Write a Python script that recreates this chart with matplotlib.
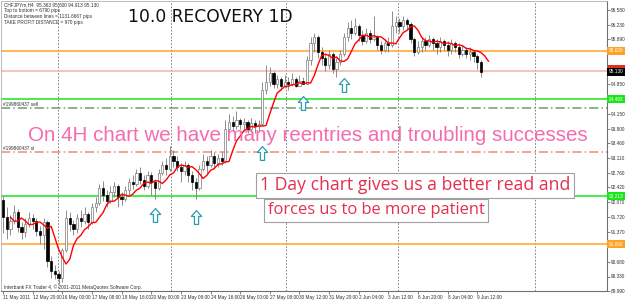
import matplotlib
matplotlib.use('Agg')
import matplotlib.pyplot as plt
from matplotlib.path import Path
from matplotlib.patches import Rectangle
import numpy as np
import pandas as pd

# CHFJPYm H4, 11 May - 9 Jun 2011
first_open = 92.12
closes = [91.72, 91.45, 91.62, 91.85, 91.50, 91.38, 91.55, 91.70, 91.62, 91.40,
          91.30, 91.60, 90.70, 90.45, 90.40, 90.30, 90.95, 91.70, 91.55, 91.45,
          91.70, 91.62, 91.80, 91.60, 91.95, 92.05, 92.40, 92.25, 92.10, 92.30,
          92.45, 92.20, 92.15, 92.35, 92.55, 92.50, 92.75, 92.60, 92.45, 92.70,
          92.55, 92.40, 92.75, 92.95, 92.85, 93.15, 93.05, 92.90, 92.80, 92.95,
          92.70, 92.55, 92.40, 92.85, 93.05, 92.95, 93.15, 93.00, 93.10, 93.05,
          93.80, 93.95, 93.85, 94.00, 93.90, 93.95, 93.80, 93.92, 93.85, 93.90,
          94.70, 94.90, 95.10, 94.85, 94.95, 94.80, 94.90, 94.85, 94.95, 94.80,
          94.92, 94.85, 95.40, 95.80, 95.95, 95.60, 95.45, 95.30, 95.55, 95.20,
          95.35, 95.55, 95.95, 96.15, 96.05, 96.20, 96.00, 95.85, 96.05, 95.90,
          95.95, 95.75, 95.65, 95.80, 95.75, 96.20, 96.30, 96.20, 96.35, 96.25,
          95.90, 95.60, 95.70, 95.85, 95.75, 95.90, 95.80, 95.70, 95.85, 95.75,
          95.65, 95.80, 95.70, 95.55, 95.65, 95.55, 95.60, 95.50, 95.35, 95.13]
highs = [92.22, 91.95, 91.78, 92.00, 91.92, 91.60, 91.70, 91.85, 91.80, 91.70,
         91.52, 91.70, 91.65, 90.80, 90.60, 90.45, 91.00, 91.88, 91.85, 91.65,
         91.80, 91.90, 91.95, 91.85, 92.05, 92.20, 92.50, 92.58, 92.35, 92.45,
         92.55, 92.50, 92.30, 92.45, 92.65, 92.70, 92.85, 92.90, 92.70, 92.80,
         92.78, 92.62, 92.85, 93.05, 93.10, 93.40, 93.30, 93.15, 93.00, 93.05,
         93.00, 92.80, 92.65, 92.95, 93.20, 93.15, 93.30, 93.25, 93.20, 93.25,
         94.00, 94.15, 94.10, 94.20, 94.05, 94.05, 94.00, 94.05, 94.00, 94.00,
         94.90, 95.30, 95.25, 95.15, 95.05, 95.00, 95.05, 95.00, 95.10, 95.00,
         95.05, 95.00, 95.50, 95.95, 96.05, 96.00, 95.70, 95.55, 95.65, 95.60,
         95.45, 95.65, 96.05, 96.30, 96.35, 96.40, 96.25, 96.10, 96.15, 96.10,
         96.45, 96.00, 95.85, 95.90, 95.95, 96.55, 96.45, 96.40, 96.45, 96.40,
         96.30, 95.95, 95.85, 95.95, 95.95, 96.00, 95.95, 95.90, 95.95, 95.90,
         95.85, 95.90, 95.85, 95.80, 95.75, 95.70, 95.72, 95.65, 95.55, 95.40]
lows = [91.35, 91.20, 91.30, 91.55, 91.38, 91.20, 91.25, 91.48, 91.45, 91.28,
        91.10, 90.98, 90.55, 90.30, 90.28, 90.15, 90.20, 90.90, 91.40, 91.30,
        91.35, 91.50, 91.55, 91.45, 91.55, 91.85, 92.00, 92.10, 91.95, 92.05,
        92.20, 91.95, 92.00, 92.10, 92.25, 92.38, 92.45, 92.50, 92.35, 92.40,
        92.25, 92.15, 92.35, 92.70, 92.70, 92.80, 92.90, 92.80, 92.55, 92.70,
        92.55, 92.35, 92.15, 92.35, 92.80, 92.75, 92.90, 92.85, 92.90, 92.95,
        93.00, 93.70, 93.75, 93.80, 93.78, 93.75, 93.70, 93.72, 93.70, 93.72,
        93.85, 94.60, 94.80, 94.75, 94.75, 94.70, 94.75, 94.70, 94.80, 94.78,
        94.82, 94.84, 94.85, 95.30, 95.60, 95.45, 95.30, 95.15, 95.20, 95.10,
        95.00, 95.30, 95.50, 95.85, 95.90, 96.00, 95.85, 95.75, 95.80, 95.80,
        95.85, 95.65, 95.55, 95.60, 95.60, 95.70, 96.05, 96.05, 96.10, 96.10,
        95.80, 95.50, 95.55, 95.60, 95.65, 95.70, 95.65, 95.55, 95.60, 95.65,
        95.50, 95.55, 95.60, 95.45, 95.50, 95.45, 95.40, 95.35, 95.20, 95.00]

date_labels = ["11 May 2011", "12 May 20:00", "16 May 00:00", "17 May 08:00", "18 May 16:00",
               "20 May 00:00", "23 May 08:00", "24 May 16:00", "26 May 00:00", "27 May 08:00",
               "30 May 12:00", "31 May 20:00", "2 Jun 04:00", "3 Jun 12:00", "6 Jun 20:00",
               "8 Jun 04:00", "9 Jun 12:00"]
price_ticks = [96.580, 96.230, 95.890, 95.540, 95.190, 94.850, 94.500, 94.150, 93.800, 93.460,
               93.110, 92.760, 92.420, 92.070, 91.720, 91.370, 91.020, 90.680, 90.330, 89.990]
# tick labels hidden under the coloured price boxes on the right
hidden_ticks = [95.540, 95.190, 94.500, 91.020]

# week separators (bar positions) and buy arrows
week_bars = [14.8, 45.3, 76.3, 106.5, 143.7]
arrow_bars = [41, 52, 70, 81, 92]
arrow_prices = [91.78, 91.72, 93.22, 94.40, 94.82]

# horizontal levels: price, colour, style, label box colour, label
levels = [
    (95.62, '#FFA224', '-', '#FFA224', '95.620'),
    (95.15, '#F2B3A5', '-', None, None),
    (94.49, '#19E619', '-', '#19E619', '94.493'),
    (94.29, '#6E9E6E', (0, (6, 2, 1, 2)), None, None),
    (93.26, '#F28C6A', (0, (6, 2, 1, 2)), None, None),
    (92.21, '#19E619', '-', '#19E619', '92.213'),
    (91.09, '#FFA224', '-', '#FFA224', '91.092'),
]

opens = [first_open] + closes[:-1]
n = len(closes)
bars = np.arange(n)
o = np.array(opens); c = np.array(closes)
h = np.array(highs); l = np.array(lows)

fig = plt.figure(figsize=(6.25, 3.01), dpi=100)
ax = fig.add_axes([0.0016, 10 / 301, 606 / 625, 290 / 301])
ax.set_xlim(-0.54, 163.0)
ax.set_ylim(89.99, 96.79)

small = dict(family='Liberation Sans', fontsize=3.4, color='#303030')

# grid (week separators)
for wb in week_bars:
    ax.axvline(wb, color='#707070', lw=0.6, ls=(0, (2, 2)), zorder=1)

# levels
for price, col, ls, boxcol, lab in levels:
    ax.axhline(price, color=col, lw=1.1, ls=ls, zorder=1.5)

# candles
up = c >= o
ax.vlines(bars, l, h, color='#7A7A7A', lw=0.6, zorder=2)
body_h = np.maximum(np.abs(c - o), 0.015)
ax.bar(bars[up], body_h[up], bottom=np.minimum(o, c)[up], width=0.6,
       color='white', edgecolor='#7A7A7A', linewidth=0.5, zorder=3)
ax.bar(bars[~up], body_h[~up], bottom=np.minimum(o, c)[~up], width=0.6,
       color='black', edgecolor='black', linewidth=0.5, zorder=3)

# moving average (EMA 5, shifted 2 bars)
ema = pd.Series(closes).ewm(span=5, adjust=False).mean()
ax.plot(bars + 2, ema, color='#FF0000', lw=1.0, zorder=4)

# arrows
arrow = Path([(0, 1), (0.75, 0.15), (0.3, 0.15), (0.3, -1), (-0.3, -1),
              (-0.3, 0.15), (-0.75, 0.15), (0, 1)],
             [Path.MOVETO] + [Path.LINETO] * 6 + [Path.CLOSEPOLY])
ax.plot(arrow_bars, arrow_prices, ls='none', marker=arrow, markersize=10,
        markerfacecolor='white', markeredgecolor='#2C9FB0', markeredgewidth=0.9, zorder=5)

# axes look
for side in ['left', 'top']:
    ax.spines[side].set_color('#B0B0B0')
    ax.spines[side].set_linewidth(0.6)
for side in ['right', 'bottom']:
    ax.spines[side].set_color('#707070')
    ax.spines[side].set_linewidth(0.8)
ax.yaxis.tick_right()
ax.set_yticks(price_ticks)
ax.set_yticklabels(['' if p in hidden_ticks else '%.3f' % p for p in price_ticks])
ax.set_xticks(bars[::8][:len(date_labels)])
ax.set_xticklabels(date_labels, ha='left')
ax.tick_params(axis='both', length=2, width=0.5, color='#505050', labelsize=3.4,
               labelcolor='#303030', pad=1)
for t in ax.get_xticklabels() + ax.get_yticklabels():
    t.set_family('Liberation Sans')

# right side price boxes
ytr = ax.get_yaxis_transform()
ax.add_patch(Rectangle((1.001, 95.17), 0.028, 0.13, transform=ytr, fc='#E03020',
                       ec='none', clip_on=False, zorder=6))
for price, col, ls, boxcol, lab in levels:
    if lab:
        ax.text(1.003, price, lab, transform=ytr, va='center', ha='left',
                family='Liberation Sans', fontsize=3.4, color='white', clip_on=False,
                bbox=dict(boxstyle='square,pad=0.35', fc=boxcol, ec='none'), zorder=6)
ax.text(1.003, closes[-1], '%.3f' % closes[-1], transform=ytr, va='center', ha='left',
        family='Liberation Sans', fontsize=3.4, color='white', clip_on=False,
        bbox=dict(boxstyle='square,pad=0.35', fc='black', ec='none'), zorder=7)

# info text
ax.text(0.005, 0.995, 'CHFJPYm,H4  95.363 95.600 94.913 95.130\nTop to bottom = 6790 pips\n'
        'Distance between lines = 1131.6667 pips\nTAKE PROFIT DISTANCE = 970 pips',
        transform=ax.transAxes, va='top', ha='left', linespacing=1.25, **small)
ax.text(0.005, 0.003, 'Interbank FX Trader 4, \u00a9 2001-2011 MetaQuotes Software Corp.',
        transform=ax.transAxes, va='bottom', ha='left', **small)
ax.text(0.005, 94.31, '#199860437 sell', va='bottom', ha='left', **small)
ax.text(0.005, 93.28, '#199860437 sl', va='bottom', ha='left', **small)

# annotations
ax.text(0.21, 0.945, '10.0 RECOVERY 1D', transform=ax.transAxes, family='DejaVu Sans',
        fontsize=12.3, color='#101010', va='center', ha='left')
ax.text(0.044, 0.535, 'On 4H chart we have many reentries and troubling successes',
        transform=ax.transAxes, family='Liberation Sans', fontsize=14.8,
        color='#F56BAE', va='center', ha='left', zorder=8)
box = dict(boxstyle='square,pad=0.2', fc='white', ec='#A0A0A0', lw=0.8)
ax.text(0.427, 0.365, '1 Day chart gives us a better read and', transform=ax.transAxes,
        family='Open Sans', fontsize=12.7, color='#E4304E', va='center', ha='left',
        bbox=box, zorder=8)
ax.text(0.44, 0.278, 'forces us to be more patient', transform=ax.transAxes,
        family='Open Sans', fontsize=11.9, color='#E4304E', va='center', ha='left',
        bbox=box, zorder=8)

fig.savefig('out.png', dpi=100, facecolor='white')
